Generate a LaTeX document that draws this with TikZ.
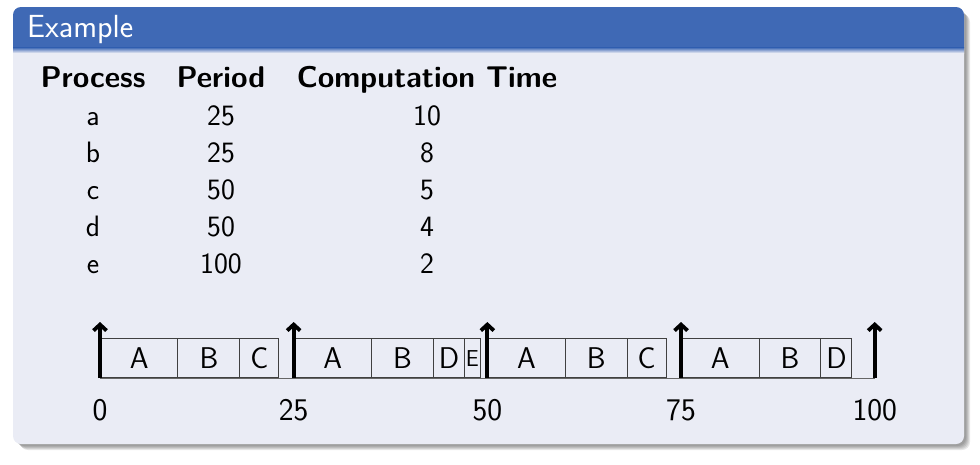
\documentclass[tikz,border=0pt]{standalone}
\usetikzlibrary{arrows.meta}
\renewcommand{\familydefault}{\sfdefault}

\definecolor{azulbloco}{RGB}{63,105,181}
\definecolor{fundobloco}{RGB}{234,236,245}

\tikzset{
	caixa/.style={draw=black!75, line width=0.9pt, inner sep=0pt, minimum height=39pt,
		anchor=south west, font=\fontsize{30}{32}\selectfont},
	seta/.style={line width=3.8pt, -{Straight Barb[length=6pt,width=13pt]}},
	rotulo/.style={anchor=base, inner sep=0pt, font=\fontsize{31.5}{34}\selectfont},
	celula/.style={anchor=base, inner sep=0pt, font=\fontsize{29.5}{32}\selectfont},
	cabecalho/.style={celula, font=\fontsize{30}{32}\selectfont\bfseries}
}

\begin{document}
\begin{tikzpicture}[x=1pt, y=-1pt]
\useasboundingbox (0,0) rectangle (980,464);

% sombra
	\foreach \k in {0,...,4}
		\fill[black, opacity=0.09, rounded corners=8] (16+\k,10+\k) rectangle (966+\k,446+\k);

% bloco
	\fill[fundobloco, rounded corners=8] (13,7) rectangle (964,444);
	\fill[azulbloco] (13,48) {[rounded corners=8] -- (13,7) -- (964,7)} -- (964,48) -- cycle;
	\shade[top color=azulbloco, bottom color=fundobloco] (13,47.5) rectangle (964,53);
	\node[anchor=base west, inner sep=0pt, text=white, font=\fontsize{32}{34}\selectfont] (titulo) at (27,37.5) {Example};

% tabela
	\node[cabecalho] (hproc) at (93,87) {Process};
	\node[cabecalho] (hper) at (221,87) {Period};
	\node[cabecalho] (hcomp) at (427,87) {Computation Time};
	\foreach \p/\t/\c [count=\i from=0] in {a/25/10, b/25/8, c/50/5, d/50/4, e/100/2} {
		\node[celula] (p\i) at (93,125+37*\i) {\p};
		\node[celula] (t\i) at (221,125+37*\i) {\t};
		\node[celula] (c\i) at (427,125+37*\i) {\c};
	}

% linha do tempo
\begin{scope}[shift={(100,378)}, x=7.747pt]
	\draw[black!60, line width=0.9pt] (0,0) -- (100,0);
	\foreach \a/\b/\l [count=\j] in {0/10/A, 10/18/B, 18/23/C,
			25/35/A, 35/43/B, 43/47/D, 47/49/{\fontsize{23}{24}\selectfont E},
			50/60/A, 60/68/B, 68/73/C,
			75/85/A, 85/93/B, 93/97/D}
		\node[caixa, minimum width=(\b-\a)*7.747pt] (b\j) at (\a,0) {\l};
	\foreach \t in {0,25,50,75,100} {
		\coordinate (m\t) at (\t,0);
		\draw[seta] (m\t) -- ++(0,-56);
		\node[rotulo] (n\t) at (\t,42) {\t};
	}
\end{scope}
\end{tikzpicture}
\end{document}
